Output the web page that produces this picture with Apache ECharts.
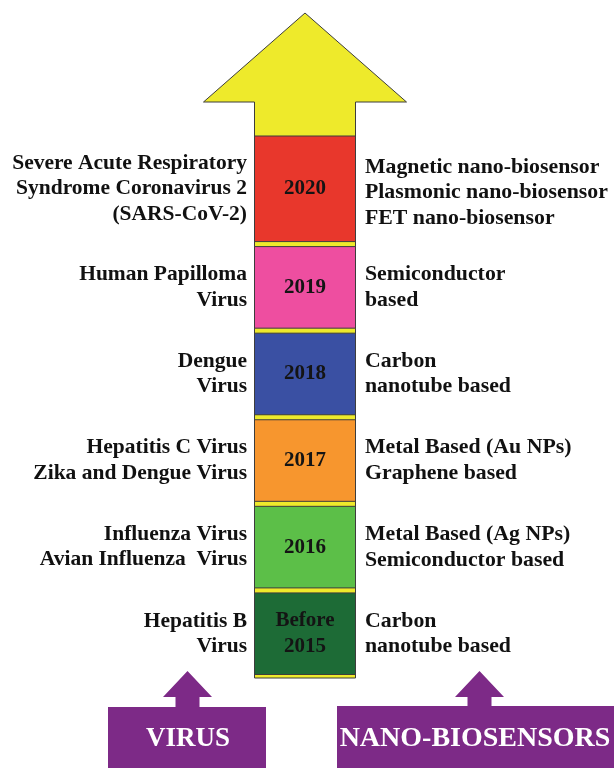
<!DOCTYPE html>
<html><head><meta charset="utf-8">
<script src="https://cdn.jsdelivr.net/npm/echarts/dist/echarts.min.js"></script>
<style>html,body{margin:0;padding:0;background:#fff}#c{width:614px;height:768px}</style>
</head><body><div id="c"></div>
<script>
// ---- data (bottom to top) ----
const periods = ['Before\n2015', '2016', '2017', '2018', '2019', '2020'];
const viruses = [
  'Hepatitis B\nVirus',
  'Influenza Virus\nAvian Influenza  Virus',
  'Hepatitis C Virus\nZika and Dengue Virus',
  'Dengue\nVirus',
  'Human Papilloma\nVirus',
  'Severe Acute Respiratory\nSyndrome Coronavirus 2\n(SARS-CoV-2)'
];
const sensors = [
  'Carbon\nnanotube based',
  'Metal Based (Ag NPs)\nSemiconductor based',
  'Metal Based (Au NPs)\nGraphene based',
  'Carbon\nnanotube based',
  'Semiconductor\nbased',
  'Magnetic nano-biosensor\nPlasmonic nano-biosensor\nFET nano-biosensor'
];
const footerLabels = ['VIRUS', 'NANO-BIOSENSORS'];

// ---- styles ----
const periodColors = ['#1d6b36', '#5cbf48', '#f7962e', '#3a50a3', '#ee4ea0', '#e8372c'];
const YELLOW = '#eeea2b';
const PURPLE = '#7d2a87';
const OUTLINE = '#3d3d3d';
const FONT = '"Liberation Serif", "Times New Roman", serif';
const SHAFT_X = 305;

const chart = echarts.init(document.getElementById('c'), null, {renderer: 'canvas'});

function arrowItem(params, api) {
  const n = periods.length;
  const bandH = api.size([0, 1])[1];
  const bottom = api.coord([SHAFT_X, 0])[1] + bandH / 2 + 1;
  const topBand = api.coord([SHAFT_X, n - 1])[1] - bandH / 2;
  const cx = api.coord([SHAFT_X, 0])[0];
  const hw = 50.5, headHW = 101.5;
  const base = topBand - 55.5, tip = topBand - 144.5;
  return {
    type: 'polygon',
    shape: {points: [
      [cx, tip], [cx + headHW, base], [cx + hw, base], [cx + hw, bottom],
      [cx - hw, bottom], [cx - hw, base], [cx - headHW, base]
    ]},
    style: {fill: YELLOW, stroke: OUTLINE, lineWidth: 1}
  };
}

function stageItem(params, api) {
  const idx = api.value(1);
  const c = api.coord([api.value(0), idx]);
  const bandH = api.size([0, 1])[1];
  const hw = 50.5, gap = 5;
  let top = c[1] - bandH / 2 + gap / 2;
  const bot = c[1] + bandH / 2 - gap / 2;
  if (idx === periods.length - 1) top -= 24;
  const mid = (top + bot) / 2;
  return {
    type: 'group',
    children: [
      {type: 'rect', shape: {x: c[0] - hw, y: top, width: hw * 2, height: bot - top},
       style: {fill: periodColors[idx], stroke: OUTLINE, lineWidth: 1}},
      {type: 'text', style: {text: periods[idx], x: c[0], y: mid, align: 'center', verticalAlign: 'middle',
        font: 'bold 21px ' + FONT, lineHeight: 26, fill: '#141414'}},
      {type: 'text', style: {text: viruses[idx], x: c[0] - 58, y: mid, align: 'right', verticalAlign: 'middle',
        font: 'bold 21.5px ' + FONT, lineHeight: 25.5, fill: '#111'}},
      {type: 'text', style: {text: sensors[idx], x: c[0] + 60, y: mid + (idx === periods.length - 1 ? 4 : 0), align: 'left', verticalAlign: 'middle',
        font: 'bold 21.8px ' + FONT, lineHeight: 25.5, fill: '#111'}}
    ]
  };
}

function footerShape(x0, x1, ax, top) {
  const stemHW = 12, headHW = 24.5;
  return [[x0, top], [ax - stemHW, top], [ax - stemHW, 697], [ax - headHW, 697], [ax, 671],
          [ax + headHW, 697], [ax + stemHW, 697], [ax + stemHW, top], [x1, top], [x1, 768], [x0, 768]];
}

chart.setOption({
  animation: false,
  grid: {left: 0, right: 0, top: 157.5, bottom: 91},
  xAxis: {type: 'value', min: 0, max: 614, show: false},
  yAxis: {type: 'category', data: periods, show: false},
  series: [
    {type: 'custom', clip: false, z: 1, renderItem: arrowItem, data: [[SHAFT_X, 0]]},
    {type: 'custom', clip: false, z: 2, renderItem: stageItem,
     data: periods.map((p, i) => [SHAFT_X, i])}
  ],
  graphic: [
    {type: 'polygon', shape: {points: footerShape(108, 266, 187.5, 707)}, style: {fill: PURPLE}},
    {type: 'text', style: {text: footerLabels[0], x: 188, y: 739, align: 'center', verticalAlign: 'middle',
      font: 'bold 27px ' + FONT, fill: '#fff'}},
    {type: 'polygon', shape: {points: footerShape(337, 620, 479.5, 706)}, style: {fill: PURPLE}},
    {type: 'text', style: {text: footerLabels[1], x: 475, y: 739, align: 'center', verticalAlign: 'middle',
      font: 'bold 28px ' + FONT, fill: '#fff'}}
  ]
});
</script>
</body></html>
